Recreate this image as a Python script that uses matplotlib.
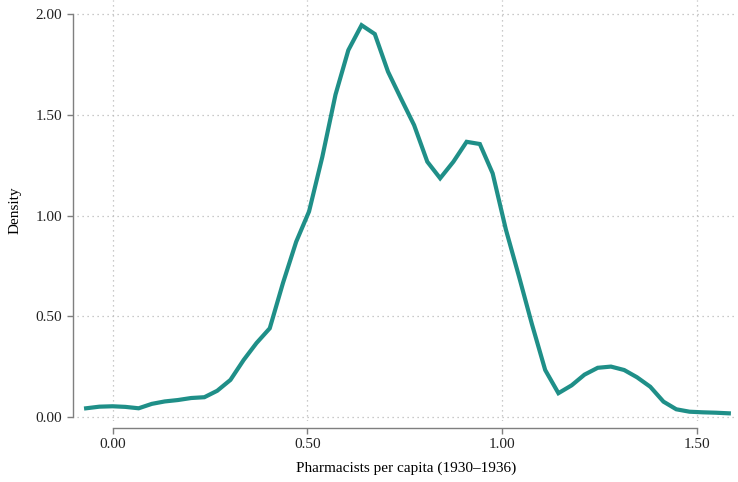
import numpy as np
import matplotlib
matplotlib.use("Agg")
import matplotlib.pyplot as plt

# kernel density estimate
pharm_x = [-0.069, -0.035, -0.001, 0.032, 0.066, 0.100, 0.133, 0.167, 0.201, 0.235,
           0.268, 0.302, 0.336, 0.369, 0.403, 0.437, 0.471, 0.504, 0.538, 0.572,
           0.605, 0.639, 0.673, 0.707, 0.740, 0.774, 0.808, 0.841, 0.875, 0.909,
           0.943, 0.976, 1.010, 1.044, 1.077, 1.111, 1.145, 1.179, 1.212, 1.246,
           1.280, 1.314, 1.347, 1.381, 1.415, 1.448, 1.482, 1.516, 1.550, 1.583]
density = [0.043, 0.051, 0.053, 0.050, 0.043, 0.065, 0.077, 0.084, 0.094, 0.098,
           0.130, 0.184, 0.283, 0.367, 0.440, 0.665, 0.870, 1.020, 1.290, 1.600,
           1.821, 1.945, 1.901, 1.714, 1.582, 1.449, 1.267, 1.185, 1.267, 1.366,
           1.355, 1.209, 0.930, 0.695, 0.460, 0.233, 0.118, 0.157, 0.210, 0.244,
           0.250, 0.233, 0.197, 0.150, 0.076, 0.038, 0.026, 0.023, 0.021, 0.018]

x_ticks = [0.0, 0.5, 1.0, 1.5]
y_ticks = [0.0, 0.5, 1.0, 1.5, 2.0]

plt.rcParams['font.family'] = ['Liberation Serif', 'DejaVu Serif']

fig = plt.figure(figsize=(7.38, 4.82), dpi=100)
ax = fig.add_axes([0.1043, 0.1266, 0.8917, 0.8734])

ax.plot(pharm_x, density, color='#1f8f88', lw=3.0, solid_joinstyle='miter', zorder=3)

ax.set_xlim(-0.0925, 1.599)
ax.set_ylim(-0.02, 2.07)
ax.set_xticks(x_ticks)
ax.set_yticks(y_ticks)
ax.set_xticklabels(['%.2f' % v for v in x_ticks])
ax.set_yticklabels(['%.2f' % v for v in y_ticks])

ax.grid(True, ls=(0, (1, 3)), color='#b8b8b8', lw=0.9)
ax.set_axisbelow(True)

for s in ['top', 'right']:
    ax.spines[s].set_visible(False)
ax.spines['left'].set_position(('outward', 3))
ax.spines['bottom'].set_position(('outward', 5))
ax.spines['left'].set_bounds(0, 2)
ax.spines['bottom'].set_bounds(0, 1.5)
for s in ['left', 'bottom']:
    ax.spines[s].set_color('#7f7f7f')
    ax.spines[s].set_linewidth(1.0)

ax.tick_params(axis='both', direction='out', length=4.5, width=1.0,
               color='#7f7f7f', labelsize=11, labelcolor='#222222', pad=3)

ax.set_xlabel('Pharmacists per capita (1930\u20131936)', fontsize=11, labelpad=7)
ax.set_ylabel('Density', fontsize=11, labelpad=10)

fig.savefig('out.png', dpi=100)
